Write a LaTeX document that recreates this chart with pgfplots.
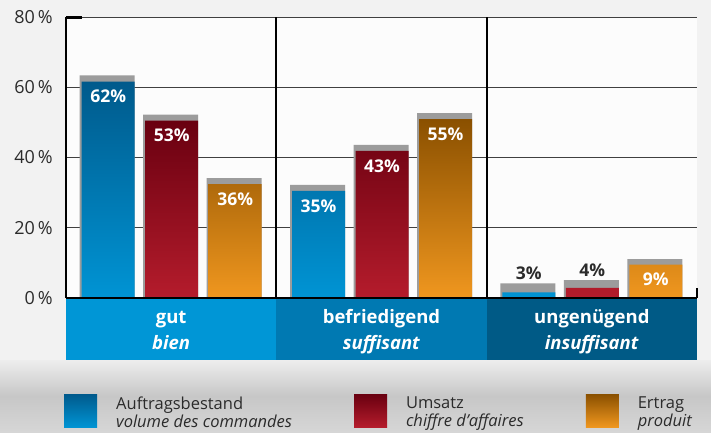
\documentclass[border=0pt]{standalone}
\usepackage{fontspec}
\setmainfont{Open Sans}
\usepackage{pgfplots}
\usepackage{pgfplotstable}
\pgfplotsset{compat=1.18}

\definecolor{blueTop}{HTML}{005A8C}
\definecolor{blueBot}{HTML}{0094D4}
\definecolor{redTop}{HTML}{690010}
\definecolor{redBot}{HTML}{B51C2C}
\definecolor{oraTop}{HTML}{8A5000}
\definecolor{oraBot}{HTML}{F0971F}
\definecolor{band1}{HTML}{0096D6}
\definecolor{band2}{HTML}{0079B2}
\definecolor{band3}{HTML}{005A86}
\definecolor{barGrey}{HTML}{9C9C9C}
\definecolor{txt}{HTML}{2B2B2B}

% x = category, p = printed percent, h = drawn bar height (as in the source),
% g = depth of the grey top face, s = label offset (negative: inside the bar)
\pgfplotstableread{
x p h g s
0 62 61.6 1.8 -15
1 35 30.5 1.7 -15
2 3 1.6 2.6 19.5
}\auftrag
\pgfplotstableread{
x p h g s
0 53 50.5 1.7 -15
1 43 41.9 1.7 -15
2 4 2.9 2.2 17.5
}\umsatz
\pgfplotstableread{
x p h g s
0 36 32.4 1.7 -15
1 55 50.9 1.7 -15
2 9 9.5 1.6 -15
}\ertrag

\pgfplotsset{
  valbars/.style={
    draw=none, bar width=53pt,
    point meta=\thisrow{p},
    visualization depends on={\thisrow{s}\as\labshift},
    nodes near coords={\ifdim\labshift pt>0pt\color{txt}\fi
      \pgfmathprintnumber{\pgfplotspointmeta}\%},
    every node near coord/.append style={anchor=center, text=white,
      yshift=\labshift pt, inner sep=0pt,
      font=\bfseries\fontsize{17.5}{20}\selectfont},
  },
  side/.style={fill=barGrey, draw=none, bar width=55pt, forget plot},
}

\newcommand{\cat}[2]{\vphantom{b}#1\\\textit{#2}}

\begin{document}
\begin{tikzpicture}
\fill[white!95!black] (0,0) rectangle (711pt,432pt);
\useasboundingbox (0,0) rectangle (711pt,432pt);
\shade[top color=white!93!black, bottom color=white!84!black, middle color=white!78!black]
  (0,0) rectangle (711pt,72pt);
% category bands below the plot
\fill[band1] (66pt,72pt) rectangle (276.3pt,134pt);
\fill[band2] (276.3pt,72pt) rectangle (486.7pt,134pt);
\fill[band3] (486.7pt,72pt) rectangle (697pt,134pt);

\begin{axis}[
  at={(66pt,134pt)}, anchor=south west,
  scale only axis, width=631pt, height=281pt,
  ybar,
  xmin=-0.5, xmax=2.5, ymin=0, ymax=80,
  enlarge x limits=false,
  axis background/.style={fill=white!99!black},
  axis line style={draw=none},
  tick style={draw=none},
  major tick length=0pt,
  ytick={0,20,40,60,80},
  yticklabel={\pgfmathprintnumber{\tick}\,\%},
  yticklabel style={inner sep=0pt, xshift=-13pt, text=txt,
    font=\fontsize{18}{20}\selectfont},
  xtick={0,1,2},
  xticklabels={\cat{gut}{bien},\cat{befriedigend}{suffisant},\cat{ungenügend}{insuffisant}},
  xticklabel style={align=center, text=white, inner sep=0pt, yshift=-11pt,
    font=\bfseries\fontsize{18.5}{26}\selectfont},
  /pgf/number format/assume math mode=true,
  ymajorgrids,
  grid style={black!75, line width=0.8pt},
  clip=false,
  legend columns=3,
  legend cell align=left,
  legend image code/.code={\fill[#1] (0pt,-14.5pt) rectangle (33pt,18.5pt);},
  legend style={at={(axis description cs:0,0)}, anchor=north west,
    xshift=-2pt, yshift=-96pt, draw=none, fill=none, inner sep=0pt,
    nodes={inner sep=0pt, text=txt, align=left,
      font=\fontsize{16.5}{18}\selectfont},
    /tikz/every odd column/.append style={column sep=19pt},
    /tikz/every even column/.append style={column sep=62pt}},
]
\addplot[side, bar shift=-64pt] table[x=x, y expr=\thisrow{h}+\thisrow{g}] {\auftrag};
\addplot[side, bar shift=-0.5pt] table[x=x, y expr=\thisrow{h}+\thisrow{g}] {\umsatz};
\addplot[side, bar shift=63pt] table[x=x, y expr=\thisrow{h}+\thisrow{g}] {\ertrag};

\addplot[valbars, bar shift=-63pt, top color=blueTop, bottom color=blueBot]
  table[x=x, y=h] {\auftrag};
\addlegendentry{Auftragsbestand\\\textit{volume des commandes}}
\addplot[valbars, bar shift=0.5pt, top color=redTop, bottom color=redBot]
  table[x=x, y=h] {\umsatz};
\addlegendentry{Umsatz\\\textit{chiffre d’affaires}}
\addplot[valbars, bar shift=64pt, top color=oraTop, bottom color=oraBot]
  table[x=x, y=h] {\ertrag};
\addlegendentry{Ertrag\\\textit{produit}}

% axis lines and group separators
\draw[line width=2pt] (axis cs:-0.5,0) -- (axis cs:-0.5,80);
\draw[line width=3pt] (axis cs:-0.5,80) -- (axis cs:-0.423,80);
\draw[line width=2pt] (axis cs:0.5,0) -- (axis cs:0.5,80);
\draw[line width=2pt] (axis cs:1.5,0) -- (axis cs:1.5,80);
\draw[line width=2.5pt] (axis cs:-0.5,0) -- (axis cs:2.5,0);
\draw[line width=2pt] (axis cs:2.5,0) -- (axis cs:2.5,2.85);
\end{axis}
\end{tikzpicture}
\end{document}
